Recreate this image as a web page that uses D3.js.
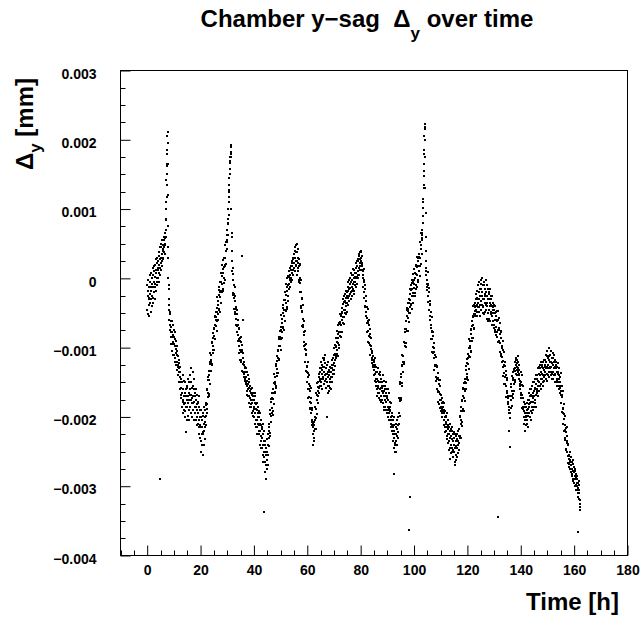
<!DOCTYPE html>
<html>
<head>
<meta charset="utf-8">
<script src="https://cdn.jsdelivr.net/npm/d3@7"></script>
<style>
body { margin: 0; background: #fff; }
text { font-family: "Liberation Sans", Arial, sans-serif; font-weight: bold; fill: #000; }
</style>
</head>
<body>
<svg id="chart" width="642" height="619"></svg>
<script>
/* data: sag values in units of 1e-5 mm, one sample every 5 min */
var step = 1 / 12;
var segStart = [0, 20, 40, 60, 80, 100, 120, 140];

var seg0 = [
  -10,-45,-25,-52,-18,-2,-38,-28,-55,-12,-30,5,  -35,-5,-22,-48,-12,8,-30,-18,-40,0,-25,-8,
  5,-28,-12,15,-35,-5,10,-20,18,-8,-30,2,  20,-12,8,28,-18,12,-5,30,0,22,-10,15,
  0,25,12,38,-5,20,32,8,45,15,28,5,  30,12,45,22,50,18,35,55,25,40,28,48,
  42,30,55,38,60,45,35,58,50,65,48,60,  70,85,100,118,135,150,165,180,195,211,120,45,
  -10,-30,-45,-38,-60,-52,-75,-48,-68,-85,-62,-78,  -70,-95,-62,-85,-105,-78,-92,-68,-110,-82,-95,-75,
  -85,-110,-95,-78,-120,-98,-88,-115,-102,-125,-90,-108,  -98,-120,-110,-132,-105,-125,-140,-112,-128,-118,-135,-122,
  -130,-150,-128,-160,-142,-135,-168,-150,-145,-172,-158,-165,  -150,-185,-165,-140,-178,-195,-160,-175,-148,-190,-170,-182,
  -165,-200,-180,-150,-192,-170,-222,-160,-185,-175,-205,-158,  -185,-155,-170,-198,-145,-180,-165,-205,-175,-150,-190,-168,
  -160,-140,-185,-175,-130,-195,-168,-150,-180,-200,-158,-172,  -180,-155,-135,-190,-170,-205,-160,-178,-145,-185,-165,-195,
  -195,-170,-205,-160,-185,-175,-212,-190,-168,-200,-182,-178,  -180,-210,-195,-225,-185,-205,-170,-215,-200,-230,-190,-212
];
var seg1 = [
  -200,-235,-215,-250,-190,-225,-205,-240,-215,-198,-255,-222,  -225,-195,-240,-210,-185,-220,-232,-200,-215,-190,-208,-198,
  -180,-211,-183,-194,-159,-182,-161,-188,-166,-142,-171,-147,  -167,-134,-170,-139,-147,-123,-153,-121,-108,-133,-118,-133,
  -110,-120,-92,-124,-94,-125,-98,-79,-104,-86,-108,-71,  -103,-73,-83,-56,-87,-67,-54,-88,-56,-69,-48,-60,
  -43,-76,-48,-61,-27,-51,-32,-60,-39,-17,-46,-24,  -44,-12,-49,-19,-27,-5,-35,-5,8,-18,-5,-20,
  3,-8,19,-15,14,-18,8,26,0,16,-7,29,  -3,29,19,48,18,39,53,21,53,42,63,53,
  55,70,62,85,78,100,92,118,110,135,128,150,  158,166,175,182,190,193,180,100,60,40,25,10,
  15,-24,-2,-21,7,-23,-10,-44,-29,-13,-48,-32,  -52,-25,-68,-44,-58,-41,-77,-52,-46,-77,-69,-90,
  -67,-82,-60,-97,-72,-108,-87,-73,-103,-91,-118,-86,  -118,-92,-107,-84,-120,-104,-96,-134,-107,-124,-108,-124,
  -115,-135,-125,-142,-120,-138,-130,-148,-128,-145,-135,-150,  -130,-152,-142,-162,-135,-155,-148,-168,-140,-160,-152,-170,
  -145,-170,-158,-180,-150,-172,-162,-185,-155,-175,-165,-182,  -160,-185,-168,-195,-158,-180,-192,-170,-175,-198,-165,-188
];
var seg2 = [
  -175,-200,-185,-165,-210,-180,-195,-170,-205,-188,-215,-182,  -190,-215,-180,-205,-225,-195,-185,-210,-200,-220,-192,-212,
  -200,-225,-210,-240,-195,-220,-235,-205,-228,-212,-245,-218,  -215,-245,-230,-255,-210,-240,-225,-265,-235,-250,-220,-258,
  -235,-265,-250,-280,-240,-290,-255,-270,-245,-275,-232,-262,  -250,-232,-270,-240,-225,-255,-230,-215,-242,-220,-210,-228,
  -190,-223,-196,-208,-174,-199,-179,-207,-187,-165,-194,-172,  -192,-159,-197,-166,-174,-151,-182,-151,-138,-164,-150,-165,
  -142,-152,-124,-156,-126,-158,-131,-112,-137,-119,-141,-104,  -136,-105,-115,-87,-118,-97,-84,-117,-85,-97,-76,-87,
  -70,-103,-75,-88,-53,-78,-58,-86,-65,-43,-72,-50,  -70,-38,-75,-45,-54,-31,-62,-31,-19,-45,-31,-47,
  -24,-35,-8,-41,-12,-44,-18,0,-26,-9,-32,4,  -15,2,-8,10,-12,5,-2,15,0,12,-5,18,
  0,18,8,25,-2,22,12,30,5,28,15,35,  15,35,22,45,10,30,40,18,38,25,48,20,
  49,25,38,5,30,15,42,22,10,28,-5,18,  -3,20,1,21,-19,-6,-2,-43,-20,-40,-28,-47,
  -30,-69,-48,-67,-39,-70,-58,-92,-78,-62,-98,-82,  -102,-76,-120,-96,-111,-95,-133,-109,-103,-135,-128,-150
];
var seg3 = [
  -127,-143,-121,-160,-136,-173,-152,-139,-171,-159,-187,-156,  -188,-163,-179,-158,-195,-180,-173,-212,-187,-205,-190,-207,
  -210,-225,-215,-240,-208,-230,-220,-212,-235,-205,-218,-200,  -185,-217,-189,-201,-165,-189,-169,-196,-175,-151,-180,-157,
  -170,-150,-162,-142,-158,-138,-165,-148,-135,-155,-145,-130,  -130,-150,-120,-155,-138,-125,-160,-132,-145,-115,-142,-128,
  -145,-118,-135,-152,-115,-128,-148,-122,-140,-110,-138,-130,  -130,-158,-145,-200,-125,-150,-138,-165,-142,-120,-155,-135,
  -155,-132,-162,-140,-150,-128,-158,-145,-135,-160,-142,-130,  -135,-150,-125,-142,-130,-118,-138,-125,-115,-132,-122,-110,
  -132,-100,-138,-109,-118,-96,-127,-97,-86,-112,-99,-115,  -92,-103,-76,-109,-80,-112,-86,-68,-94,-77,-100,-64,
  -96,-66,-77,-51,-83,-63,-51,-85,-54,-68,-48,-60,  -43,-77,-50,-64,-30,-56,-37,-66,-46,-25,-56,-34,
  -50,-32,-22,-45,-28,-52,-35,-18,-40,-25,-48,-20,  -35,-12,-28,-5,-38,-18,-25,-2,-32,-15,-22,-8,
  -22,0,-14,-30,-5,-20,8,-12,-25,-2,-18,5,  -15,5,-8,14,-22,0,-5,12,-18,2,-10,8,
  -5,15,0,22,-12,8,25,2,-8,18,5,28,  10,25,0,32,15,35,5,22,12,38,18,28
];
var seg4 = [
  25,40,30,38,18,32,20,12,22,5,10,0,  -12,14,-29,-5,-20,-3,-40,-15,-9,-41,-33,-55,
  -32,-48,-26,-65,-41,-78,-57,-44,-76,-64,-92,-61,  -93,-67,-83,-60,-96,-80,-73,-111,-84,-102,-86,-102,
  -98,-115,-108,-122,-105,-118,-128,-112,-125,-118,-132,-120,  -118,-140,-128,-148,-125,-138,-115,-150,-135,-145,-128,-155,
  -135,-160,-145,-170,-130,-155,-165,-148,-158,-138,-172,-150,  -165,-140,-160,-175,-150,-135,-170,-158,-145,-178,-155,-162,
  -150,-175,-158,-140,-180,-165,-155,-185,-148,-170,-162,-190,  -175,-155,-185,-160,-170,-190,-150,-178,-165,-195,-172,-160,
  -170,-190,-160,-185,-200,-175,-195,-165,-188,-205,-178,-192,  -185,-205,-190,-215,-180,-200,-210,-195,-220,-198,-212,-205,
  -205,-225,-215,-235,-200,-230,-220,-245,-212,-238,-225,-250,  -240,-215,-250,-225,-210,-235,-205,-228,-218,-240,-212,-222,
  -200,-230,-200,-210,-173,-195,-173,-198,-175,-150,-177,-152,  -172,-138,-175,-143,-151,-127,-156,-125,-111,-135,-121,-135,
  -112,-121,-92,-123,-92,-122,-94,-73,-97,-78,-99,-61,  -93,-62,-73,-45,-76,-55,-43,-76,-44,-57,-36,-47,
  -30,-63,-36,-50,-16,-41,-22,-50,-31,-9,-39,-17,  -37,-6,-44,-15,-25,-3,-35,-5,6,-21,-8,-25
];
var seg5 = [
  -2,-14,13,-21,8,-25,0,18,-9,7,-16,19,  -13,16,5,31,-2,18,29,-5,25,11,31,18,
  35,3,30,18,53,29,48,21,42,65,35,58,  55,62,70,80,90,102,115,130,148,165,185,205,
  215,223,200,130,60,25,15,10,5,-2,-8,-12,  -17,9,-34,-10,-25,-8,-45,-20,-14,-46,-38,-60,
  -37,-54,-33,-72,-49,-88,-68,-56,-88,-77,-106,-76,  -108,-83,-99,-78,-115,-100,-93,-132,-107,-125,-110,-127,
  -110,-148,-125,-142,-113,-142,-128,-160,-145,-127,-162,-144,  -164,-136,-178,-152,-164,-146,-181,-155,-147,-176,-167,-187,
  -175,-185,-168,-192,-180,-195,-172,-188,-200,-178,-192,-185,  -185,-205,-190,-212,-195,-180,-215,-200,-222,-192,-208,-198,
  -200,-220,-210,-232,-195,-215,-228,-205,-238,-212,-225,-218,  -215,-235,-225,-248,-210,-260,-230,-220,-245,-228,-252,-218,
  -240,-220,-250,-232,-215,-245,-225,-258,-235,-248,-222,-240,  -230,-250,-240,-265,-225,-245,-270,-235,-255,-228,-262,-242,
  -245,-225,-258,-232,-240,-220,-252,-235,-228,-248,-218,-238,  -217,-227,-199,-231,-200,-231,-204,-185,-210,-191,-213,-176,
  -208,-177,-188,-160,-191,-170,-158,-191,-159,-172,-151,-162,  -145,-177,-150,-162,-127,-151,-132,-159,-138,-116,-145,-122
];
var seg6 = [
  -142,-109,-146,-115,-123,-101,-131,-100,-87,-112,-98,-113,  -90,-100,-73,-105,-75,-106,-80,-61,-86,-69,-91,-54,
  -86,-56,-67,-40,-72,-51,-39,-73,-42,-55,-35,-47,  -52,-30,-45,-22,-40,-55,-28,-38,-18,-48,-30,-42,
  -35,-10,-42,-20,-5,-30,-48,-15,-38,-25,-55,-8,  -2,-32,-15,-45,-20,0,-38,-25,-50,-10,-30,-42,
  -40,-10,-30,-52,-5,-25,-35,-15,-48,-22,-2,-38,  -20,-45,-10,-35,-58,-25,-40,-15,-50,-30,-62,-22,
  -45,-20,-58,-30,-40,-15,-62,-35,-25,-52,-38,-48,  -30,-55,-40,-68,-25,-50,-45,-35,-62,-42,-72,-38,
  -45,-68,-50,-75,-40,-60,-78,-55,-70,-48,-82,-62,  -47,-84,-60,-77,-47,-75,-60,-92,-75,-57,-90,-72,
  -92,-64,-107,-81,-94,-76,-112,-86,-78,-109,-100,-120,  -97,-113,-91,-128,-104,-141,-119,-106,-137,-125,-152,-121,
  -153,-127,-143,-120,-156,-140,-133,-171,-144,-162,-146,-162,  -165,-172,-170,-182,-178,-190,-186,-195,-220,-185,-243,-195,
  -170,-202,-175,-187,-152,-176,-157,-184,-163,-141,-170,-147,  -167,-135,-173,-144,-153,-131,-162,-132,-121,-147,-134,-150,
  -130,-118,-138,-125,-115,-132,-122,-140,-118,-128,-112,-135,  -120,-130,-125,-138,-132,-145,-140,-152,-148,-160,-155,-165
];
var seg7 = [
  -135,-173,-150,-168,-139,-169,-154,-187,-172,-155,-189,-172,  -185,-200,-178,-210,-192,-205,-185,-220,-195,-182,-212,-198,
  -200,-185,-210,-195,-180,-205,-190,-175,-198,-188,-215,-182,  -185,-165,-195,-175,-200,-170,-180,-160,-192,-178,-205,-168,
  -160,-185,-170,-195,-155,-178,-165,-190,-172,-150,-185,-162,  -170,-150,-180,-158,-145,-175,-160,-185,-152,-168,-140,-162,
  -145,-165,-140,-160,-130,-155,-170,-148,-138,-162,-150,-128,  -150,-130,-155,-140,-125,-160,-135,-145,-120,-152,-138,-128,
  -125,-145,-130,-150,-120,-140,-155,-132,-142,-118,-148,-128,  -140,-118,-135,-125,-145,-110,-130,-120,-148,-128,-112,-138,
  -105,-130,-115,-140,-125,-100,-135,-118,-142,-112,-128,-120,  -130,-110,-140,-120,-105,-135,-128,-145,-115,-138,-122,-108,
  -115,-135,-125,-145,-110,-130,-140,-120,-150,-128,-118,-138,  -140,-125,-150,-130,-120,-145,-135,-155,-128,-148,-138,-122,
  -135,-150,-140,-160,-130,-155,-145,-165,-150,-158,-142,-168,  -162,-136,-180,-156,-171,-155,-193,-169,-163,-195,-188,-210,
  -187,-203,-181,-220,-196,-233,-212,-199,-231,-219,-247,-216,  -248,-222,-238,-215,-251,-235,-228,-266,-239,-257,-241,-257,
  -255,-268,-260,-272,-250,-265,-275,-262,-270,-258,-280,-265,  -270,-282,-265,-285,-275,-262,-290,-278,-268,-292,-280,-272,
  -280,-295,-275,-290,-300,-285,-278,-298,-288,-305,-282,-295,  -290,-305,-285,-300,-310,-295,-315,-302,-292,-318,-305,-298,
  -310,-325,-335,-320,-330
];

/* single points on the three narrow peaks and the isolated outliers */
var extraT = [6.9, 7.05, 7.2, 7.3, 7.45, 7.55, 7.7, 7.8, 7.9, 7.95, 8.05,
              30.3, 30.6, 30.8, 31.1, 31.3, 31.55, 31.7, 31.9,
              103.1, 103.3, 103.45, 103.6, 103.7, 103.85, 104.0, 104.1, 104.2, 104.3, 104.45,
              4.9, 35.7, 35.8, 43.6, 92.6, 98.1, 98.6, 131.6, 161.3];
var extraV = [84, 110, 142, 162, 185, 205, 165, 75, 30, 0, -15,
              80, 125, 145, 170, 180, 175, 65, 25,
              65, 90, 110, 135, 155, 180, 200, 218, 175, 95, 40,
              -290, 32, -60, -337, -283, -363, -316, -344, -366];

var xTicks = [0, 20, 40, 60, 80, 100, 120, 140, 160, 180];
var yTicks = [0.003, 0.002, 0.001, 0, -0.001, -0.002, -0.003, -0.004];
var yTickLabels = ["0.003", "0.002", "0.001", "0", "\u22120.001", "\u22120.002", "\u22120.003", "\u22120.004"];

var segs = [seg0, seg1, seg2, seg3, seg4, seg5, seg6, seg7];
var points = [];
segs.forEach(function(s, i){
    s.forEach(function(v, j){
        points.push({t: segStart[i] + j * step, v: v * 1e-5});
    });
});
extraT.forEach(function(t, i){
    points.push({t: t, v: extraV[i] * 1e-5});
});

var svg = d3.select("#chart");
var x = d3.scaleLinear().domain([-10, 180]).range([120.5, 627.5]);
var y = d3.scaleLinear().domain([-0.004, 0.003]).range([555.5, 70.5]);

/* minor ticks */
var xMinor = d3.range(-10, 181, 5).filter(d => d % 20 !== 0);
var yMinor = d3.range(-16, 13).map(d => d * 0.00025).filter(d => Math.abs(Math.round(d * 1000) - d * 1000) > 1e-6);

svg.append("g").selectAll("line").data(xMinor).join("line")
   .attr("x1", d => Math.round(x(d)) + 0.5).attr("x2", d => Math.round(x(d)) + 0.5)
   .attr("y1", 555.5).attr("y2", 550.5)
   .attr("stroke", "#000");

svg.append("g").selectAll("line").data(yMinor).join("line")
   .attr("y1", d => Math.round(y(d)) + 0.5).attr("y2", d => Math.round(y(d)) + 0.5)
   .attr("x1", 120.5).attr("x2", 125.5)
   .attr("stroke", "#000");

/* major axes */
var xAxis = svg.append("g")
   .attr("transform", "translate(0,555.5)")
   .call(d3.axisBottom(x).tickValues(xTicks).tickSize(-10).tickFormat(d3.format("d")));
xAxis.select(".domain").remove();
xAxis.selectAll("line").attr("stroke", "#000");
xAxis.selectAll("text").attr("y", 19.5).attr("dy", 0)
     .style("font-size", "14px").style("font-family", "'Liberation Sans', Arial, sans-serif")
     .style("font-weight", "bold");

var yAxis = svg.append("g")
   .attr("transform", "translate(120.5,0)")
   .call(d3.axisLeft(y).tickValues(yTicks).tickSize(-10).tickPadding(24)
           .tickFormat((d, i) => yTickLabels[i]));
yAxis.select(".domain").remove();
yAxis.selectAll("line").attr("stroke", "#000");
yAxis.selectAll("text").attr("dy", "0.55em")
     .style("font-size", "14px").style("font-family", "'Liberation Sans', Arial, sans-serif")
     .style("font-weight", "bold");

/* frame */
svg.append("rect")
   .attr("x", 120.5).attr("y", 70.5)
   .attr("width", 507).attr("height", 485)
   .attr("fill", "none").attr("stroke", "#000");

/* points */
svg.append("g").selectAll("rect").data(points).join("rect")
   .attr("x", d => Math.round(x(d.t)) - 1)
   .attr("y", d => Math.round(y(d.v)) - 1)
   .attr("width", 2).attr("height", 2)
   .attr("fill", "#000");

/* titles */
var title = svg.append("text")
   .attr("x", 367).attr("y", 27)
   .attr("text-anchor", "middle")
   .style("font-size", "24px").style("white-space", "pre");
title.append("tspan").text("Chamber y\u2212sag  \u0394");
title.append("tspan").attr("dy", 12).style("font-size", "17px").text("y");
title.append("tspan").attr("dy", -12).text(" over time");

var yTitle = svg.append("text")
   .attr("transform", "translate(33,78) rotate(-90)")
   .attr("text-anchor", "end")
   .style("font-size", "24px").style("white-space", "pre");
yTitle.append("tspan").text("\u0394");
yTitle.append("tspan").attr("dy", 8).style("font-size", "17px").text("y");
yTitle.append("tspan").attr("dy", -8).text(" [mm]");

svg.append("text")
   .attr("x", 619).attr("y", 610)
   .attr("text-anchor", "end")
   .style("font-size", "24px")
   .text("Time [h]");
</script>
</body>
</html>
